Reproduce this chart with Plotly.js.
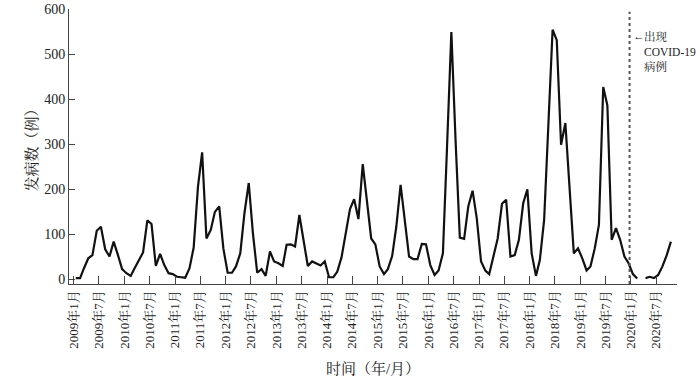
<!DOCTYPE html>
<html>
<head>
<meta charset="utf-8">
<script src="https://cdn.plot.ly/plotly-3.0.1.min.js"></script>
<style>
  html, body { margin: 0; padding: 0; background: #fff; }
  #chart { width: 700px; height: 377px; }
</style>
</head>
<body>
<div id="chart"></div>
<script>
// Monthly case counts, starting 2009年1月 (null = not recorded)
const startYear = 2009;
const cases = [
  3, 3, 25, 47, 54, 108, 117, 67, 51, 84, 54, 23,          // 2009
  14, 8, 25, 43, 60, 131, 123, 30, 57, 32, 14, 12,         // 2010
  6, 5, 4, 25, 71, 206, 282, 91, 110, 150, 162, 69,        // 2011
  15, 15, 29, 58, 147, 214, 103, 15, 23, 8, 62, 40,        // 2012
  36, 30, 77, 78, 73, 143, 88, 30, 40, 36, 31, 40,         // 2013
  5, 5, 17, 49, 103, 156, 178, 134, 256, 174, 91, 78,      // 2014
  29, 12, 23, 52, 117, 210, 132, 51, 45, 45, 79, 78,       // 2015
  32, 10, 20, 58, 295, 549, 311, 93, 90, 162, 197, 136,    // 2016
  40, 20, 12, 51, 91, 168, 177, 51, 54, 88, 169, 200,      // 2017
  58, 8, 43, 132, 343, 554, 531, 299, 347, 203, 58, 69,    // 2018
  47, 20, 29, 69, 121, 427, 386, 88, 114, 88, 51, 36,      // 2019
  12, 2, null, 3, 6, 3, 10, 29, 54, 84                     // 2020
];
const tickDates = [
  "2009-01-01","2009-07-01","2010-01-01","2010-07-01","2011-01-01","2011-07-01",
  "2012-01-01","2012-07-01","2013-01-01","2013-07-01","2014-01-01","2014-07-01",
  "2015-01-01","2015-07-01","2016-01-01","2016-07-01","2017-01-01","2017-07-01",
  "2018-01-01","2018-07-01","2019-01-01","2019-07-01","2020-01-01","2020-07-01"
];
const tickLabels = [
  "2009年1月","2009年7月","2010年1月","2010年7月","2011年1月","2011年7月",
  "2012年1月","2012年7月","2013年1月","2013年7月","2014年1月","2014年7月",
  "2015年1月","2015年7月","2016年1月","2016年7月","2017年1月","2017年7月",
  "2018年1月","2018年7月","2019年1月","2019年7月","2020年1月","2020年7月"
];
const yTicks = [0, 100, 200, 300, 400, 500, 600];
const covidDate = "2019-12-22";
const covidArrow = "←";
const covidNote = "出现<br>COVID-19<br>病例";

const dates = cases.map((_, i) => {
  const y = startYear + Math.floor(i / 12);
  const m = (i % 12) + 1;
  return y + "-" + String(m).padStart(2, "0") + "-15";
});

const FONT = "'Liberation Serif', 'Times New Roman', 'Noto Serif CJK SC', 'Noto Sans CJK SC', serif";

const trace = {
  x: dates,
  y: cases,
  type: "scatter",
  mode: "lines",
  connectgaps: false,
  line: { color: "#111111", width: 2.2 },
  hoverinfo: "x+y"
};

const layout = {
  width: 700,
  height: 377,
  margin: { l: 69, r: 23, t: 9, b: 93 },
  paper_bgcolor: "#ffffff",
  plot_bgcolor: "#ffffff",
  showlegend: false,
  font: { family: FONT, color: "#222222", size: 13 },
  xaxis: {
    type: "date",
    range: ["2008-11-27", "2020-11-28"],
    tickmode: "array",
    tickvals: tickDates,
    ticktext: tickLabels,
    tickangle: -90,
    ticks: "inside",
    ticklen: 8,
    tickwidth: 1,
    tickcolor: "#444444",
    tickfont: { family: FONT, size: 13, color: "#222222" },
    showline: true,
    linecolor: "#444444",
    linewidth: 1,
    showgrid: false,
    zeroline: false,
    automargin: false,
    title: { text: "时间（年/月）", font: { family: FONT, size: 15, color: "#222222" }, standoff: 15 }
  },
  yaxis: {
    range: [-10, 600],
    tickmode: "array",
    tickvals: yTicks,
    ticktext: yTicks.map(String),
    ticks: "inside",
    ticklen: 6,
    tickwidth: 1,
    tickcolor: "#444444",
    tickfont: { family: FONT, size: 14, color: "#222222" },
    showline: true,
    linecolor: "#444444",
    linewidth: 1,
    showgrid: false,
    zeroline: false,
    automargin: false,
    title: { text: "发病数（例）", font: { family: FONT, size: 15, color: "#222222" }, standoff: 2 }
  },
  shapes: [{
    type: "line",
    xref: "x", yref: "paper",
    x0: covidDate, x1: covidDate,
    y0: 0, y1: 0.99,
    line: { color: "#555555", width: 2, dash: "dot" }
  }],
  annotations: [{
    xref: "x", yref: "paper",
    x: covidDate, y: 0.93,
    xanchor: "left", yanchor: "top",
    xshift: 1,
    align: "left",
    showarrow: false,
    text: covidArrow,
    font: { family: FONT, size: 11.5, color: "#222222" }
  }, {
    xref: "x", yref: "paper",
    x: covidDate, y: 0.93,
    xanchor: "left", yanchor: "top",
    xshift: 12,
    align: "left",
    showarrow: false,
    text: covidNote,
    font: { family: FONT, size: 11.5, color: "#222222" }
  }]
};

Plotly.newPlot("chart", [trace], layout, { displayModeBar: false, staticPlot: true });
</script>
</body>
</html>
